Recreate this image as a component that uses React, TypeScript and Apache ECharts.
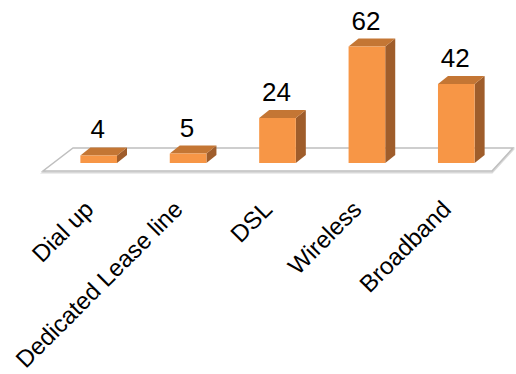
import React, { useEffect, useRef } from "react";
import * as echarts from "echarts";

const categories = ["Dial up", "Dedicated Lease line", "DSL", "Wireless", "Broadband"];
const values = [4, 5, 24, 62, 42];

const FONT = "'Liberation Sans', Arial, sans-serif";

export default function App() {
  const ref = useRef<HTMLDivElement>(null);
  useEffect(() => {
    const chart = echarts.init(ref.current!, null, { renderer: "svg" });
    const DX = 10;
    const DY = 8;
    chart.setOption({
      animation: false,
      grid: { left: 54, right: 15, top: 31.5, bottom: 206 },
      xAxis: {
        type: "category",
        data: categories,
        axisLine: { show: false },
        axisTick: { show: false },
        axisLabel: {
          interval: 0,
          rotate: 45,
          margin: 32,
          padding: [0, 14, 0, 0],
          fontSize: 24,
          color: "#000",
          fontFamily: FONT,
        },
      },
      yAxis: { type: "value", min: 0, max: 70, show: false, splitLine: { show: false } },
      series: [
        {
          type: "custom",
          data: [[0, 0]],
          z: 1,
          silent: true,
          renderItem: (params: any, api: any) => {
            const cs = params.coordSys;
            const base = api.coord([0, 0])[1];
            const fl = cs.x - 11;
            const fr = cs.x + cs.width - 9;
            const bl = cs.x + 19;
            const br = cs.x + cs.width + 12;
            const fy = base + 8;
            const by = base - 15;
            return {
              type: "group",
              children: [
                {
                  type: "polygon",
                  shape: { points: [[fl, fy + 1.5], [fr, fy + 1.5], [br, by + 1.5], [bl, by + 1.5]] },
                  style: { fill: "none", stroke: "#D9D9D9", lineWidth: 2 },
                },
                {
                  type: "polygon",
                  shape: { points: [[fl, fy], [fr, fy], [br, by], [bl, by]] },
                  style: { fill: "#fff", stroke: "#BFBFBF", lineWidth: 1.5 },
                },
              ],
            };
          },
        },
        {
          type: "custom",
          data: values.map((v, i) => [i, v]),
          z: 2,
          renderItem: (params: any, api: any) => {
            const i = api.value(0);
            const v = api.value(1);
            const b = api.coord([i, 0]);
            const t = api.coord([i, v]);
            const w = api.size([1, 0])[0] * 0.41;
            const x0 = b[0] - w / 2;
            const x1 = b[0] + w / 2;
            const y0 = t[1];
            const y1 = b[1];
            return {
              type: "group",
              children: [
                {
                  type: "polygon",
                  shape: { points: [[x1, y1], [x1 + DX, y1 - DY], [x1 + DX, y0 - DY], [x1, y0]] },
                  style: { fill: "#9F5D2B" },
                },
                {
                  type: "polygon",
                  shape: { points: [[x0, y0], [x0 + DX, y0 - DY], [x1 + DX, y0 - DY], [x1, y0]] },
                  style: { fill: "#C47634" },
                },
                {
                  type: "rect",
                  shape: { x: x0, y: y0, width: w, height: y1 - y0 },
                  style: { fill: "#F79646" },
                },
                {
                  type: "text",
                  x: b[0] - 1,
                  y: y0 - DY - 5,
                  style: {
                    text: String(v),
                    fontSize: 26,
                    fontFamily: FONT,
                    fill: "#000",
                    align: "center",
                    verticalAlign: "bottom",
                  },
                },
              ],
            };
          },
        },
      ],
    });
    return () => chart.dispose();
  }, []);
  return (
    <div
      ref={ref}
      style={{ position: "fixed", left: 0, top: 0, width: 516, height: 374, background: "#fff" }}
    />
  );
}
